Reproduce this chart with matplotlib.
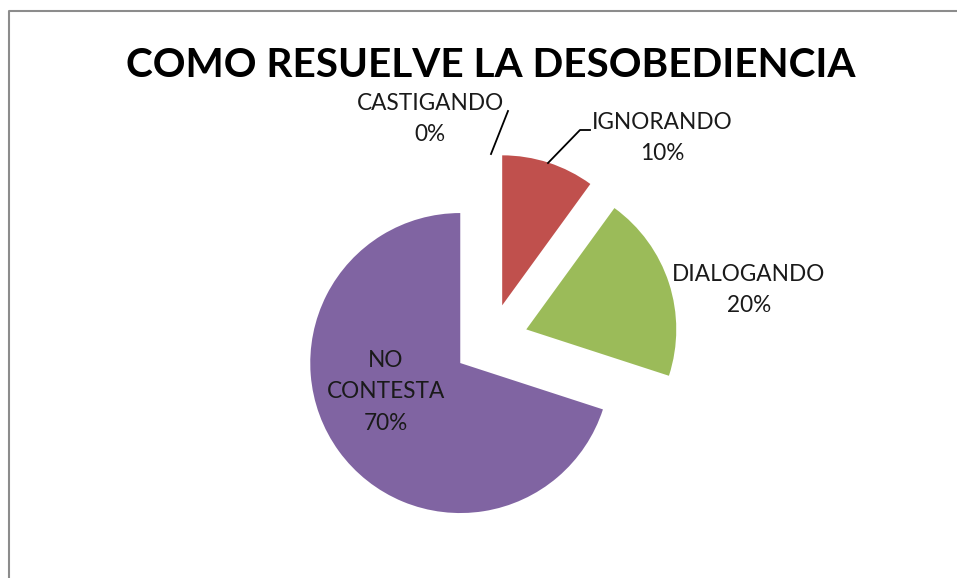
import numpy as np
import matplotlib
matplotlib.use('Agg')
from matplotlib import pyplot as plt
from matplotlib.lines import Line2D

plt.rcParams['font.family'] = ['Lato', 'DejaVu Sans']

# data
categories = ['CASTIGANDO', 'IGNORANDO', 'DIALOGANDO', 'NO\nCONTESTA']
values = [0, 10, 20, 70]
colors = ['#4F81BD', '#C0504D', '#9BBB59', '#8064A2']
title = 'COMO RESUELVE LA DESOBEDIENCIA'

W, H = 957, 578
cx, cy, R = 490.6, 341, 150  # pie centre / radius in pixels (from top-left)


def px(x, y):
    # pixel (from top-left) -> data coords of the pie axes
    return (x - cx) / R, (cy - y) / R


fig = plt.figure(figsize=(W / 100, H / 100), dpi=100)
fig.patch.set_facecolor('white')
ax = fig.add_axes([0, 0, 1, 1])

wedges, _ = ax.pie(values, explode=[0.25] * len(values), startangle=90,
                   counterclock=False, radius=1, colors=colors,
                   wedgeprops=dict(linewidth=0))

ax.set_xlim(-cx / R, (W - cx) / R)
ax.set_ylim(-(H - cy) / R, cy / R)
ax.set_aspect('auto')
ax.axis('off')

# data labels
total = sum(values)
label_pos = [(430, 119), (662, 138), (749, 290), (386, 392)]
for cat, v, (lx, ly) in zip(categories, values, label_pos):
    x, y = px(lx, ly)
    ax.text(x, y, '%s\n%d%%' % (cat, round(100 * v / total)), ha='center', va='center',
            fontsize=16.3, color='#1a1a1a', linespacing=1.62)

# leader lines
for pts in [[(491, 154), (508, 111)], [(548, 163), (580, 130), (590, 130)]]:
    xs, ys = zip(*[px(a, b) for a, b in pts])
    ax.plot(xs, ys, color='black', lw=1.3)

fig.text(491 / W, 1 - 77 / H, title, ha='center', va='baseline',
         fontsize=29.2, fontweight='bold', color='black')

# chart area border (only top and left visible)
fig.add_artist(Line2D([8.5 / W, 8.5 / W, 1], [0, 1 - 11 / H, 1 - 11 / H],
                      transform=fig.transFigure, color='#8c8c8c', lw=1.5))

fig.savefig('out.png', dpi=100)
